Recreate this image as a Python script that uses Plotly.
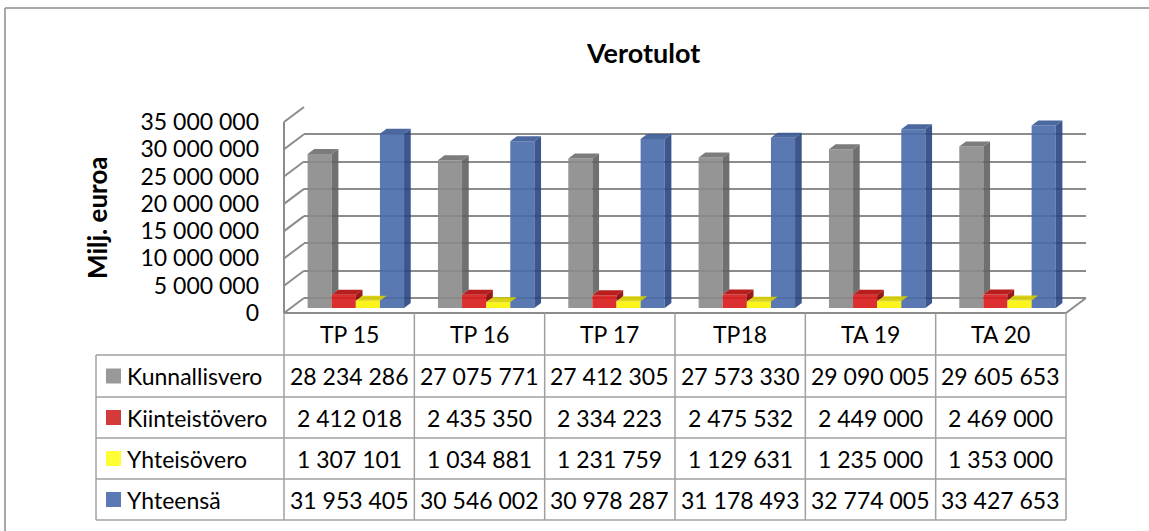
import plotly.graph_objects as go

# ---------------- data ----------------
categories = ["TP 15", "TP 16", "TP 17", "TP18", "TA 19", "TA 20"]
series_names = ["Kunnallisvero", "Kiinteistövero", "Yhteisövero", "Yhteensä"]
kunnallisvero = [28234286, 27075771, 27412305, 27573330, 29090005, 29605653]
kiinteistovero = [2412018, 2435350, 2334223, 2475532, 2449000, 2469000]
yhteisovero = [1307101, 1034881, 1231759, 1129631, 1235000, 1353000]
yhteensa = [31953405, 30546002, 30978287, 31178493, 32774005, 33427653]
y_tick_values = [0, 5000000, 10000000, 15000000, 20000000, 25000000, 30000000, 35000000]
title_text = "Verotulot"
y_title = "Milj. euroa"

series_values = [kunnallisvero, kiinteistovero, yhteisovero, yhteensa]

# ---------------- styles ----------------
FONT = "Lato"
FS = 23
front_cols = ["rgba(138,138,138,0.9)", "rgba(216,24,24,0.9)", "rgba(252,244,0,0.9)", "rgba(72,105,169,0.9)"]
top_cols = ["rgba(110,110,110,0.9)", "rgba(176,6,6,0.9)", "rgba(214,206,0,0.9)", "rgba(55,88,149,0.9)"]
side_cols = ["rgba(96,96,96,0.9)", "rgba(140,0,0,0.9)", "rgba(185,183,0,0.9)", "rgba(40,69,127,0.9)"]
key_cols = ["#999999", "#d43a3a", "#ffff33", "#5b7ab5"]
wall_col = "#8c8c8c"
table_col = "#a0a0a0"

W, H = 1149, 531
FX0, FX1 = 284, 1066          # front floor edge (px)
FY0, FY1 = 313, 122           # front plane: value 0 and 35M (px)
DX, DY = 20, -15              # full depth vector (px)
YMAX = y_tick_values[-1]
BARGAP = 0.26
n_cat = len(categories)
n_ser = len(series_values)


def px(x):
    return x / W


def py(y):
    return 1 - y / H


fig = go.Figure()

# back-wall axes (x/y) - gridlines only
fig.add_trace(go.Scatter(x=[], y=[], xaxis="x", yaxis="y", showlegend=False, hoverinfo="skip"))

# bars on x2/y2 (middle depth plane)
xs = list(range(n_cat))
for k in range(n_ser):
    fig.add_trace(go.Bar(x=xs, y=series_values[k], name=series_names[k], xaxis="x2", yaxis="y2",
                         marker=dict(color=front_cols[k], line=dict(width=0)),
                         showlegend=False, hoverinfo="skip"))

# 3D top and side faces computed from the data
ux = n_cat / (FX1 - FX0)
uy = YMAX / (FY0 - FY1)
ddx = (DX / 3) * ux
ddy = (-DY / 3) * uy
bw = (1 - BARGAP) / n_ser
for k in range(n_ser):
    tx, ty, sx, sy = [], [], [], []
    for i in range(n_cat):
        v = series_values[k][i]
        xl = i - (1 - BARGAP) / 2 + k * bw
        xr = xl + bw
        tx += [xl, xl + ddx, xr + ddx, xr, xl, None]
        ty += [v, v + ddy, v + ddy, v, v, None]
        if k < n_ser - 1:
            nxt = series_values[k + 1][i]
            if nxt >= v:
                continue
            base = nxt
        else:
            base = 0
        sx += [xr, xr, xr + ddx, xr + ddx, xr, None]
        sy += [base, v, v + ddy, base + ddy, base, None]
    fig.add_trace(go.Scatter(x=sx, y=sy, xaxis="x2", yaxis="y2", mode="lines", fill="toself",
                             fillcolor=side_cols[k], line=dict(width=0), showlegend=False, hoverinfo="skip"))
    fig.add_trace(go.Scatter(x=tx, y=ty, xaxis="x2", yaxis="y2", mode="lines", fill="toself",
                             fillcolor=top_cols[k], line=dict(width=0), showlegend=False, hoverinfo="skip"))

# tick-label axis (front plane)
fig.add_trace(go.Scatter(x=[], y=[], xaxis="x3", yaxis="y3", showlegend=False, hoverinfo="skip"))


def fmt(v):
    return f"{int(v):,}".replace(",", " ")


hidden = dict(visible=False, showgrid=False, zeroline=False, showticklabels=False, showline=False,
              automargin=False)

fig.update_layout(
    template="none",
    width=W, height=H, autosize=False,
    margin=dict(l=0, r=0, t=0, b=0, pad=0),
    paper_bgcolor="white", plot_bgcolor="rgba(0,0,0,0)",
    barmode="group", bargap=BARGAP, bargroupgap=0,
    showlegend=False,
    font=dict(family=FONT, size=FS, color="black"),
    xaxis=dict(domain=[px(FX0 + DX), px(FX1 + DX)], range=[0, 1], anchor="y", **hidden),
    yaxis=dict(domain=[py(FY0 + DY), py(FY1 + DY)], range=[0, YMAX], anchor="x", automargin=False,
               tickvals=y_tick_values, showgrid=True, gridcolor=wall_col, gridwidth=2,
               zeroline=True, zerolinecolor=wall_col, zerolinewidth=2,
               showticklabels=False, showline=False, ticks=""),
    xaxis2=dict(domain=[px(FX0 + DX / 3), px(FX1 + DX / 3)], range=[-0.5, n_cat - 0.5], anchor="y2", **hidden),
    yaxis2=dict(domain=[py(FY0 + DY / 3), py(FY1 + DY / 3)], range=[0, YMAX], anchor="x2", **hidden),
    xaxis3=dict(domain=[px(FX0), px(FX1)], range=[0, 1], anchor="y3", **hidden),
    yaxis3=dict(domain=[py(FY0), py(FY1)], range=[0, YMAX], anchor="x3", automargin=False,
                tickvals=y_tick_values, ticktext=[fmt(v) for v in y_tick_values],
                tickfont=dict(family=FONT, size=FS, color="black"),
                showgrid=False, zeroline=False, showline=False, ticks="", ticklabelstandoff=24),
)

shapes = []


def line(x0, y0, x1, y1, color, width):
    shapes.append(dict(type="line", xref="paper", yref="paper", x0=px(x0), y0=py(y0), x1=px(x1), y1=py(y1),
                       line=dict(color=color, width=width), layer="above"))


# outer chart border
line(5, 8, W + 5, 8, wall_col, 1.5)
line(5, 8, 5, H + 5, wall_col, 1.5)

# left wall
line(FX0, FY1, FX0, FY0, wall_col, 2)
for v in y_tick_values:
    yf = FY0 - (FY0 - FY1) * v / YMAX
    line(FX0, yf, FX0 + DX, yf + DY, wall_col, 2)
# floor right edge
line(FX1, FY0, FX1 + DX, FY0 + DY, wall_col, 2)

# data table
row_y = [FY0, 355, 397, 438, 479, 520]
TL = 96
colw = (FX1 - FX0) / n_cat
line(FX0, row_y[0], FX1, row_y[0], wall_col, 2)
for y in row_y[1:]:
    line(TL, y, FX1, y, table_col, 1.5)
line(TL, row_y[1], TL, row_y[-1], table_col, 1.5)
for c in range(n_cat + 1):
    line(FX0 + c * colw, row_y[0], FX0 + c * colw, row_y[-1], table_col, 1.5)

annotations = []


def text(x, y, s, xanchor="center", bold=False, size=FS, angle=0):
    annotations.append(dict(x=px(x), y=py(y), xref="paper", yref="paper", text=(f"<b>{s}</b>" if bold else s),
                            showarrow=False, xanchor=xanchor, yanchor="middle", textangle=angle,
                            font=dict(family=FONT, size=size, color="black")))


for c, cat in enumerate(categories):
    text(FX0 + (c + 0.5) * colw, (row_y[0] + row_y[1]) / 2, cat)
for k in range(n_ser):
    yc = (row_y[k + 1] + row_y[k + 2]) / 2
    shapes.append(dict(type="rect", xref="paper", yref="paper", x0=px(106), x1=px(121),
                       y0=py(yc - 7.5), y1=py(yc + 7.5), fillcolor=key_cols[k], line=dict(width=0), layer="above"))
    text(125, yc, series_names[k], xanchor="left")
    for c in range(n_cat):
        text(FX0 + (c + 0.5) * colw, yc, fmt(series_values[k][c]))

text(643, 52, title_text, bold=True, size=27)
text(97, 218, y_title, bold=True, size=26, angle=-90)

fig.update_layout(shapes=shapes, annotations=annotations)
fig.write_html("out.html", config={"displayModeBar": False},
               post_script="document.body.style.margin='0';document.body.style.overflow='hidden';")
